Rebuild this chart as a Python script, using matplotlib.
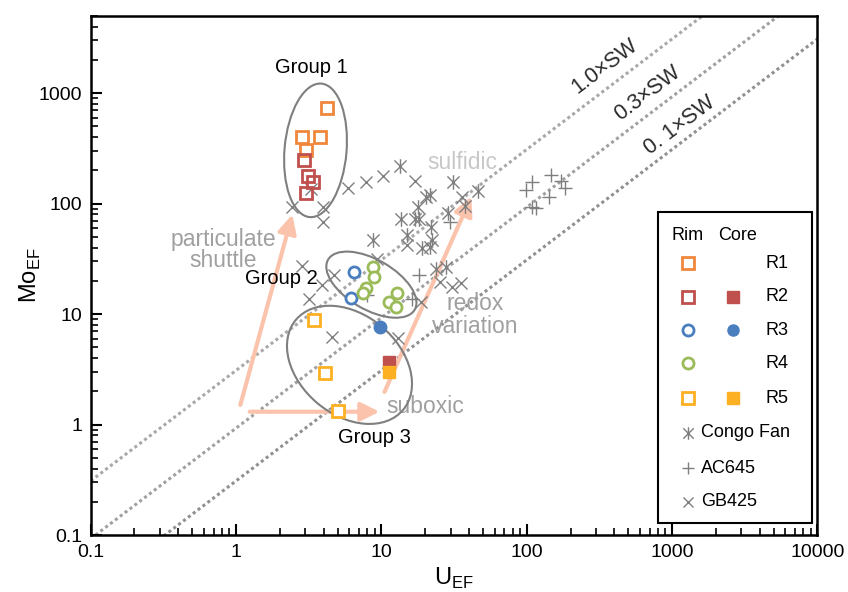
import matplotlib
matplotlib.use('Agg')
import matplotlib.pyplot as plt
from matplotlib.patches import Ellipse, Rectangle
from matplotlib.path import Path
from matplotlib.ticker import LogLocator, FuncFormatter, NullFormatter
from matplotlib.transforms import ScaledTranslation

plt.rcParams['font.family'] = ['Liberation Sans', 'DejaVu Sans']

# Samples: rim = open markers, core = filled markers.
r1RimU = [4.19, 2.82, 3.75, 3.01]
r1RimMo = [731, 399, 399, 304]
r2RimU = [2.91, 3.10, 3.36, 3.05]
r2RimMo = [247, 177, 156, 126]
r2CoreU = [11.2]
r2CoreMo = [3.71]
r3RimU = [6.52, 6.22]
r3RimMo = [24.3, 14.1]
r3CoreU = [9.7]
r3CoreMo = [7.7]
r4RimU = [8.81, 8.96, 7.89, 7.52, 12.7, 11.2, 12.5]
r4RimMo = [27.0, 21.9, 17.4, 15.7, 15.7, 13.0, 11.5]
r5RimU = [3.41, 4.12, 4.99]
r5RimMo = [8.9, 2.94, 1.33]
r5CoreU = [11.2]
r5CoreMo = [3.01]

# Reference data sets.
congoU = [13.5, 31.3, 21.7, 20.4, 46.4, 37.8, 17.9, 28.8, 17.0, 18.0,
          13.7, 22.1, 14.9, 22.4, 19.1, 21.7, 8.7, 23.9, 28.0]
congoMo = [218, 156, 121, 116, 129, 96, 92.5, 81.6, 72, 72,
           72, 61, 52.6, 47.4, 40.1, 40.9, 46.5, 25.4, 27.0]
ac645U = [109, 99, 147, 173, 184, 143, 109, 116, 29.8, 18.2, 8.0, 16.3]
ac645Mo = [156, 132, 180, 159, 140, 116, 92.5, 90.6, 69, 22.8, 15.0, 13.6]
gb425U = [2.44, 3.94, 3.94, 5.93, 7.89, 10.3, 17.1, 36.1, 3.30, 2.82,
          3.87, 4.75, 3.15, 4.60, 12.9, 14.9, 9.25, 25.1, 30.8, 35.5, 18.8]
gb425Mo = [92.5, 92.5, 69, 140, 156, 177, 159, 116, 135, 27.5,
           18.5, 22.8, 13.6, 6.25, 6.12, 42.7, 31.8, 19.7, 17.7, 19.3, 13.0]

# Seawater Mo/U molar ratio and fractions of it.
swRatio = 3.1
swFractions = [1.0, 0.3, 0.1]
swLabels = ['1.0\u00d7SW', '0.3\u00d7SW', '0. 1\u00d7SW']

# Colours.
colR1 = '#F0873C'
colR2 = '#C0504D'
colR3 = '#4A7EBF'
colR4 = '#9BBB59'
colR5 = '#FDB022'
colGray = '#7f7f7f'
colArrow = '#FBC3AC'

fig = plt.figure(figsize=(8.48, 5.92), dpi=100)
ax = fig.add_axes([0.107, 0.096, 0.857, 0.877])
ax.set_xscale('log')
ax.set_yscale('log')
ax.set_xlim(0.1, 10000)
ax.set_ylim(0.1, 5000)

# Seawater lines.
xLine = [0.1, 10000]
swColors = ['#a8a8a8', '#a0a0a0', '#909090']
for frac, c in zip(swFractions, swColors):
    ax.plot(xLine, [frac*swRatio*v for v in xLine], color=c,
            linestyle=(0, (1, 1)), lw=2.2, zorder=1)

# Asterisk marker for Congo Fan.
starPath = Path([(-1, -1), (1, 1), (-1, 1), (1, -1), (0, -1.2), (0, 1.2)],
                [Path.MOVETO, Path.LINETO, Path.MOVETO, Path.LINETO,
                 Path.MOVETO, Path.LINETO])

ms = 8.5
ax.plot(congoU, congoMo, ls='none', marker=starPath, ms=10.5, mec=colGray,
        mew=1.0, zorder=2)
ax.plot(ac645U, ac645Mo, ls='none', marker='+', ms=ms+1, mec=colGray,
        mew=1.0, zorder=2)
ax.plot(gb425U, gb425Mo, ls='none', marker='x', ms=ms, mec=colGray,
        mew=1.0, zorder=2)

# Arrows and process labels.
arrowProps = dict(arrowstyle='-|>', color=colArrow, lw=3, mutation_scale=28,
                  shrinkA=0, shrinkB=0)
ax.annotate('', xy=(2.44, 80), xytext=(1.07, 1.51), arrowprops=arrowProps,
            zorder=1.5)
ax.annotate('', xy=(9.7, 1.31), xytext=(1.24, 1.31), arrowprops=arrowProps,
            zorder=1.5)
ax.annotate('', xy=(41.6, 116), xytext=(10.5, 1.98), arrowprops=arrowProps,
            zorder=1.5)

textGray = '#a0a0a0'
ax.text(0.182, 0.549, 'particulate\nshuttle', transform=ax.transAxes,
        ha='center', va='center', fontsize=16.5, color=textGray,
        linespacing=0.92)
ax.text(0.512, 0.717, 'sulfidic', transform=ax.transAxes, ha='center',
        va='center', fontsize=16.5, color='#c8c8c8')
ax.text(0.529, 0.424, 'redox\nvariation', transform=ax.transAxes,
        ha='center', va='center', fontsize=16.5, color=textGray,
        linespacing=0.95)
ax.text(0.460, 0.247, 'suboxic', transform=ax.transAxes, ha='center',
        va='center', fontsize=16.5, color=textGray)

# Seawater labels.
for (fx, fy), lab in zip([(0.708, 0.904), (0.766, 0.852), (0.811, 0.790)],
                         swLabels):
    ax.text(fx, fy, lab, transform=ax.transAxes, rotation=37.2,
            ha='center', va='center', fontsize=15.5, color='#2a2a2a')

# Group ellipses, sized in inches around a data-space centre.
for (cx, cy), w, h, ang in [((3.52, 304), 0.62, 1.34, -5),
                            ((8.53, 18.5), 1.00, 0.50, -30),
                            ((6.03, 3.48), 1.40, 1.00, -40)]:
    e = Ellipse((0, 0), w, h, angle=ang, fill=False, ec='#7f7f7f', lw=1.5,
                transform=fig.dpi_scale_trans +
                ScaledTranslation(cx, cy, ax.transData), zorder=3)
    ax.add_patch(e)

ax.text(0.304, 0.900, 'Group 1', transform=ax.transAxes, ha='center',
        va='center', fontsize=14.5)
ax.text(0.262, 0.494, 'Group 2', transform=ax.transAxes, ha='center',
        va='center', fontsize=14.5)
ax.text(0.390, 0.189, 'Group 3', transform=ax.transAxes, ha='center',
        va='center', fontsize=14.5)

# Sample markers.
sqSize = 8.5
ax.plot(r1RimU, r1RimMo, ls='none', marker='s', ms=sqSize, mfc='white',
        mec=colR1, mew=2, zorder=4)
ax.plot(r2RimU, r2RimMo, ls='none', marker='s', ms=sqSize, mfc='none',
        mec=colR2, mew=2, zorder=4)
ax.plot(r3RimU, r3RimMo, ls='none', marker='o', ms=8, mfc='white',
        mec=colR3, mew=2, zorder=4)
ax.plot(r4RimU, r4RimMo, ls='none', marker='o', ms=8, mfc='white',
        mec=colR4, mew=2, zorder=4)
ax.plot(r5RimU, r5RimMo, ls='none', marker='s', ms=sqSize, mfc='white',
        mec=colR5, mew=2, zorder=4)
ax.plot(r3CoreU, r3CoreMo, ls='none', marker='o', ms=9, color=colR3,
        zorder=4)
ax.plot(r2CoreU, r2CoreMo, ls='none', marker='s', ms=8.5, color=colR2,
        zorder=4)
ax.plot(r5CoreU, r5CoreMo, ls='none', marker='s', ms=8.5, color=colR5,
        zorder=4)

# Hand-built legend box.
ax.add_patch(Rectangle((0.780, 0.023), 0.213, 0.599, transform=ax.transAxes,
                       fc='white', ec='black', lw=1.5, zorder=10))
legFont = 13
ax.text(0.821, 0.578, 'Rim', transform=ax.transAxes, ha='center',
        va='center', fontsize=legFont, zorder=11)
ax.text(0.890, 0.578, 'Core', transform=ax.transAxes, ha='center',
        va='center', fontsize=legFont, zorder=11)
rowsY = [0.524, 0.459, 0.395, 0.331, 0.264]
rimMarkers = [('s', colR1), ('s', colR2), ('o', colR3), ('o', colR4),
              ('s', colR5)]
coreMarkers = [None, ('s', colR2), ('o', colR3), None, ('s', colR5)]
for i, yy in enumerate(rowsY):
    mk, c = rimMarkers[i]
    ax.plot([0.822], [yy], transform=ax.transAxes, ls='none', marker=mk,
            ms=8, mfc='white', mec=c, mew=2, zorder=11, clip_on=False)
    if coreMarkers[i] is not None:
        mk, c = coreMarkers[i]
        ax.plot([0.884], [yy], transform=ax.transAxes, ls='none', marker=mk,
                ms=8, color=c, zorder=11, clip_on=False)
    ax.text(0.928, yy, 'R%d' % (i+1), transform=ax.transAxes, ha='left',
            va='center', fontsize=legFont, zorder=11)
for yy, mk, sz, lab in [(0.197, starPath, 9, 'Congo Fan'),
                        (0.129, '+', 8, 'AC645'), (0.064, 'x', 7.5, 'GB425')]:
    ax.plot([0.822], [yy], transform=ax.transAxes, ls='none', marker=mk,
            ms=sz, mec=colGray, mew=1.0, zorder=11, clip_on=False)
    ax.text(0.840, yy, lab, transform=ax.transAxes, ha='left', va='center',
            fontsize=legFont, zorder=11)

# Axes styling.
ax.xaxis.set_major_locator(LogLocator(base=10, numticks=10))
ax.yaxis.set_major_locator(LogLocator(base=10, numticks=10))
ax.xaxis.set_minor_locator(LogLocator(base=10, subs=range(2, 10), numticks=20))
ax.yaxis.set_minor_locator(LogLocator(base=10, subs=range(2, 10), numticks=20))
fmt = FuncFormatter(lambda v, _: '%g' % v)
ax.xaxis.set_major_formatter(fmt)
ax.yaxis.set_major_formatter(fmt)
ax.xaxis.set_minor_formatter(NullFormatter())
ax.yaxis.set_minor_formatter(NullFormatter())
ax.tick_params(which='major', direction='in', length=8, width=1.5,
               labelsize=14, pad=6)
ax.tick_params(which='minor', direction='in', length=5, width=1.2)
for s in ax.spines.values():
    s.set_linewidth(1.8)

ax.set_xlabel('U$_{\\mathregular{EF}}$', fontsize=17, labelpad=4)
ax.set_ylabel('Mo$_{\\mathregular{EF}}$', fontsize=17, labelpad=-3)

fig.savefig('out.png', dpi=100)
